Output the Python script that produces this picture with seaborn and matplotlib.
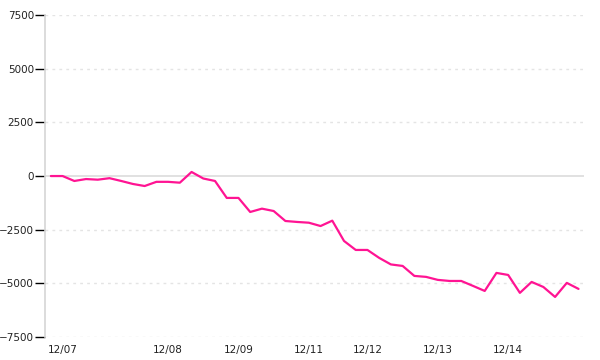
import matplotlib
matplotlib.use("Agg")
import matplotlib.pyplot as plt
import seaborn as sns
import pandas as pd
import numpy as np

values = [0, 0, -230, -140, -170, -100, -230, -370, -465, -270,
          -270, -310, 190, -115, -230, -1020, -1020, -1675, -1520, -1630,
          -2095, -2140, -2175, -2330, -2080, -3025, -3445, -3445, -3815, -4120,
          -4190, -4655, -4700, -4840, -4890, -4890, -5120, -5355, -4515, -4610,
          -5445, -4935, -5170, -5635, -4980, -5260]
tick_index = [1, 10, 16, 22, 27, 33, 39]
tick_labels = ["12/07", "12/08", "12/09", "12/11", "12/12", "12/13", "12/14"]
y_ticks = [-7500, -5000, -2500, 0, 2500, 5000, 7500]

df = pd.DataFrame({"i": np.arange(len(values)), "v": values})

sns.set_style("white")
plt.rcParams["font.family"] = ["DejaVu Sans"]

fig = plt.figure(figsize=(6, 3.6), dpi=100)
ax = fig.add_axes([0.075, 0.064, 0.898, 0.894])

for yt in y_ticks:
    if yt == 0:
        ax.axhline(0, color="#dcdcdc", lw=1.2, zorder=1)
    else:
        ax.axhline(yt, color="#e4e4e4", lw=1, linestyle=(0, (2, 3)), zorder=1)

sns.lineplot(data=df, x="i", y="v", ax=ax, color="#ff1493", linewidth=1.6, zorder=3)

ax.set_xlim(-0.5, 45.45)
ax.set_ylim(-7500, 7500)
ax.set_yticks(y_ticks)
ax.set_yticklabels([str(t).replace("-", "\u2212") for t in y_ticks])
ax.set_xticks(tick_index)
ax.set_xticklabels(tick_labels)
ax.set_xlabel("")
ax.set_ylabel("")

for s in ["top", "right", "bottom"]:
    ax.spines[s].set_visible(False)
ax.spines["left"].set_color("#d6d6d6")
ax.spines["left"].set_linewidth(1.2)

ax.tick_params(axis="y", direction="out", length=7, width=1, color="black",
               labelsize=7.5, labelcolor="#222222", pad=1, left=True)
ax.tick_params(axis="x", length=0, labelsize=7.5, labelcolor="#222222", pad=6)

fig.savefig("out.png", dpi=100)
